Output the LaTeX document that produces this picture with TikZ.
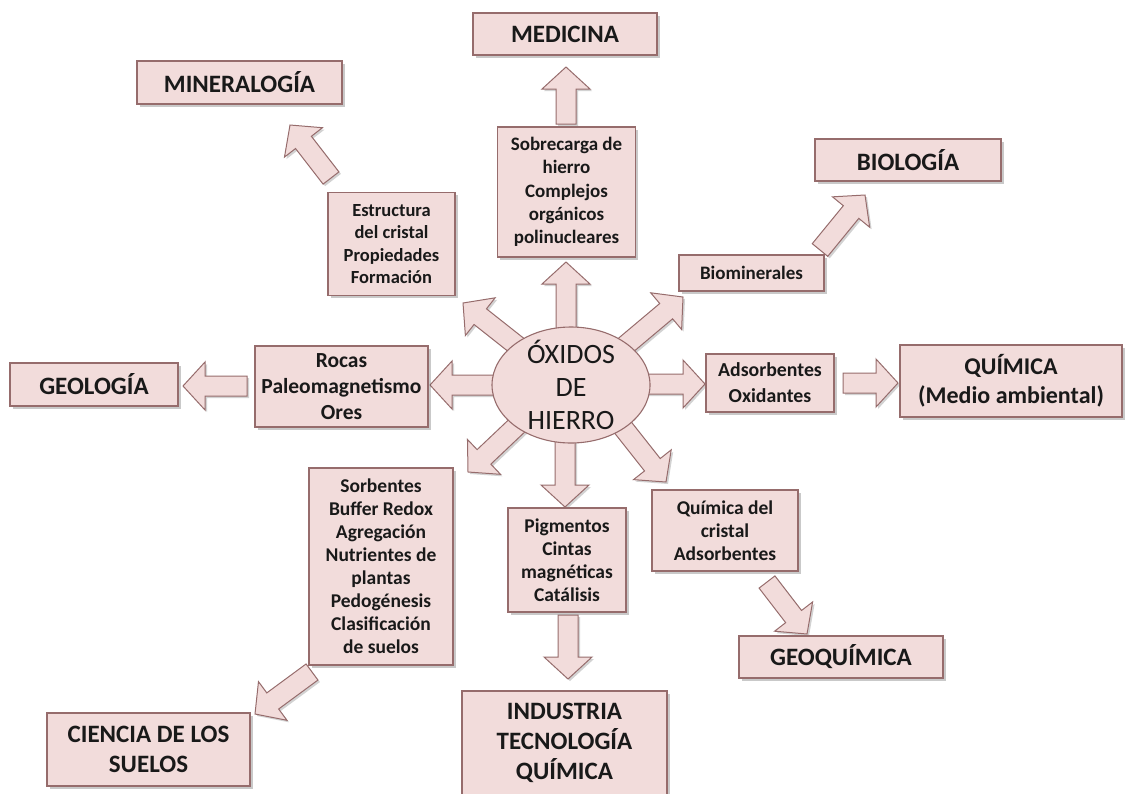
\documentclass[tikz,border=0pt]{standalone}
\usepackage{fontspec}
\setmainfont{Carlito}
\usetikzlibrary{calc,shadows,shapes.geometric,backgrounds}
\definecolor{boxfill}{RGB}{242,220,219}
\definecolor{boxdraw}{RGB}{150,108,108}
\definecolor{txt}{RGB}{25,25,25}
\newcommand\arrsw{10pt}
\newcommand\arrhw{24pt}
\newcommand\arrhl{22pt}
\newcommand\blockarr[2]{%
  \draw[blockarrow] ($(#1)!\arrsw!90:(#2)$)
    -- ($(#2)!\arrhl!(#1)!\arrsw!90:(#2)$)
    -- ($(#2)!\arrhl!(#1)!\arrhw!90:(#2)$)
    -- (#2)
    -- ($(#2)!\arrhl!(#1)!\arrhw!-90:(#2)$)
    -- ($(#2)!\arrhl!(#1)!\arrsw!-90:(#2)$)
    -- ($(#1)!\arrsw!-90:(#2)$) -- cycle;}
\tikzset{
  box/.style={draw=boxdraw, fill=boxfill, line width=1.1pt, inner sep=0pt, align=center, text=txt,
    drop shadow={shadow xshift=2.5pt, shadow yshift=-2.5pt, opacity=0.3, fill=black!70}},
  titlebox/.style={box, font=\bfseries\fontsize{25}{30}\selectfont},
  smallbox/.style={box, font=\bfseries\fontsize{19.5}{23}\selectfont},
  blockarrow/.style={draw=boxdraw, fill=boxfill, line width=1pt, line join=miter,
    drop shadow={shadow xshift=2pt, shadow yshift=-2pt, opacity=0.25, fill=black!70}},
}
\begin{document}
\begin{tikzpicture}[x=1pt,y=-1pt]
\useasboundingbox (0,0) rectangle (1126,793);
% outer boxes
\node[titlebox, minimum width=184pt, minimum height=42pt] (med) at (565,34) {MEDICINA};
\node[titlebox, minimum width=205pt, minimum height=43pt] (min) at (239.5,82.5) {MINERALOG\'IA};
\node[titlebox, minimum width=186pt, minimum height=42pt] (bio) at (908,160) {BIOLOG\'IA};
\node[titlebox, minimum width=168pt, minimum height=43pt] (geo) at (94,384.5) {GEOLOG\'IA};
\node[titlebox, minimum width=222pt, minimum height=72pt, font=\bfseries\fontsize{24}{29}\selectfont] (qui) at (1011,381) {QU\'IMICA\\(Medio ambiental)};
\node[titlebox, minimum width=204pt, minimum height=42pt] (geoq) at (841,657) {GEOQU\'IMICA};
\node[titlebox, minimum width=205pt, minimum height=104pt] (ind) at (564.5,743) {INDUSTRIA\\TECNOLOG\'IA\\QU\'IMICA};
\node[titlebox, minimum width=203pt, minimum height=73pt] (cie) at (148.5,749.5) {CIENCIA DE LOS\\SUELOS};
% inner boxes
\node[smallbox, minimum width=127pt, minimum height=103pt, font=\bfseries\fontsize{18.5}{22.5}\selectfont] (est) at (391.5,244) {Estructura\\del cristal\\Propiedades\\Formaci\'on};
\node[smallbox, minimum width=138pt, minimum height=130pt, font=\bfseries\fontsize{19}{23.2}\selectfont] (sob) at (566.5,192) {Sobrecarga de\\hierro\\Complejos\\org\'anicos\\polinucleares};
\node[smallbox, minimum width=145pt, minimum height=36pt, font=\bfseries\fontsize{19}{23}\selectfont] (biom) at (751.5,273) {Biominerales};
\node[smallbox, minimum width=173pt, minimum height=81pt, font=\bfseries\fontsize{21.5}{26}\selectfont] (roc) at (341.5,386.5) {Rocas\\Paleomagnetismo\\Ores};
\node[smallbox, minimum width=128pt, minimum height=58pt, font=\bfseries\fontsize{19.8}{26}\selectfont] (ads) at (770,383) {Adsorbentes\\Oxidantes};
\node[smallbox, minimum width=144pt, minimum height=197pt] (sor) at (381,566.5) {Sorbentes\\Buffer Redox\\Agregaci\'on\\Nutrientes de\\plantas\\Pedog\'enesis\\Clasificaci\'on\\de suelos};
\node[smallbox, minimum width=118pt, minimum height=104pt] (pig) at (567,560) {Pigmentos\\Cintas\\magn\'eticas\\Cat\'alisis};
\node[smallbox, minimum width=146pt, minimum height=81pt] (qdc) at (725,530.5) {Qu\'imica del\\cristal\\Adsorbentes};
% center
\node[ellipse, draw=boxdraw, fill=boxfill, line width=1.1pt, minimum width=158pt, minimum height=116pt, inner sep=0pt] (ox) at (571,385) {};
\node[font=\fontsize{28}{33}\selectfont, text=txt, align=center, inner sep=0pt] (oxt) at (ox.center) {\'OXIDOS\\DE\\HIERRO};
% arrow end points
\coordinate (a1s) at (566,340); \coordinate (a1e) at (566,262);
\coordinate (a2s) at (566,124); \coordinate (a2e) at (566,67);
\coordinate (a3s) at (331,178); \coordinate (a3e) at (290,125);
\coordinate (a4s) at (525,352); \coordinate (a4e) at (463,303);
\coordinate (a5s) at (620,350); \coordinate (a5e) at (683,297);
\coordinate (a6s) at (820,250); \coordinate (a6e) at (865,195);
\coordinate (a7s) at (505,385); \coordinate (a7e) at (430,385);
\coordinate (a8s) at (247,386); \coordinate (a8e) at (183,386);
\coordinate (a9s) at (640,384); \coordinate (a9e) at (705,384);
\coordinate (a10s) at (843,383); \coordinate (a10e) at (898,383);
\coordinate (a11s) at (525,418); \coordinate (a11e) at (468,472);
\coordinate (a12s) at (565,430); \coordinate (a12e) at (565,507);
\coordinate (a13s) at (568,615); \coordinate (a13e) at (568,679);
\coordinate (a14s) at (617,420); \coordinate (a14e) at (666,482);
\coordinate (a15s) at (767,582); \coordinate (a15e) at (807,634);
\coordinate (a16s) at (312,672); \coordinate (a16e) at (255,714);
\begin{scope}[on background layer]
\blockarr{a1s}{a1e}
\blockarr{a2s}{a2e}
\blockarr{a3s}{a3e}
\blockarr{a4s}{a4e}
\blockarr{a5s}{a5e}
\blockarr{a6s}{a6e}
\blockarr{a7s}{a7e}
\blockarr{a8s}{a8e}
\blockarr{a9s}{a9e}
\blockarr{a10s}{a10e}
\blockarr{a11s}{a11e}
\blockarr{a12s}{a12e}
\blockarr{a13s}{a13e}
\blockarr{a14s}{a14e}
\blockarr{a15s}{a15e}
\blockarr{a16s}{a16e}
\end{scope}
\end{tikzpicture}
\end{document}
